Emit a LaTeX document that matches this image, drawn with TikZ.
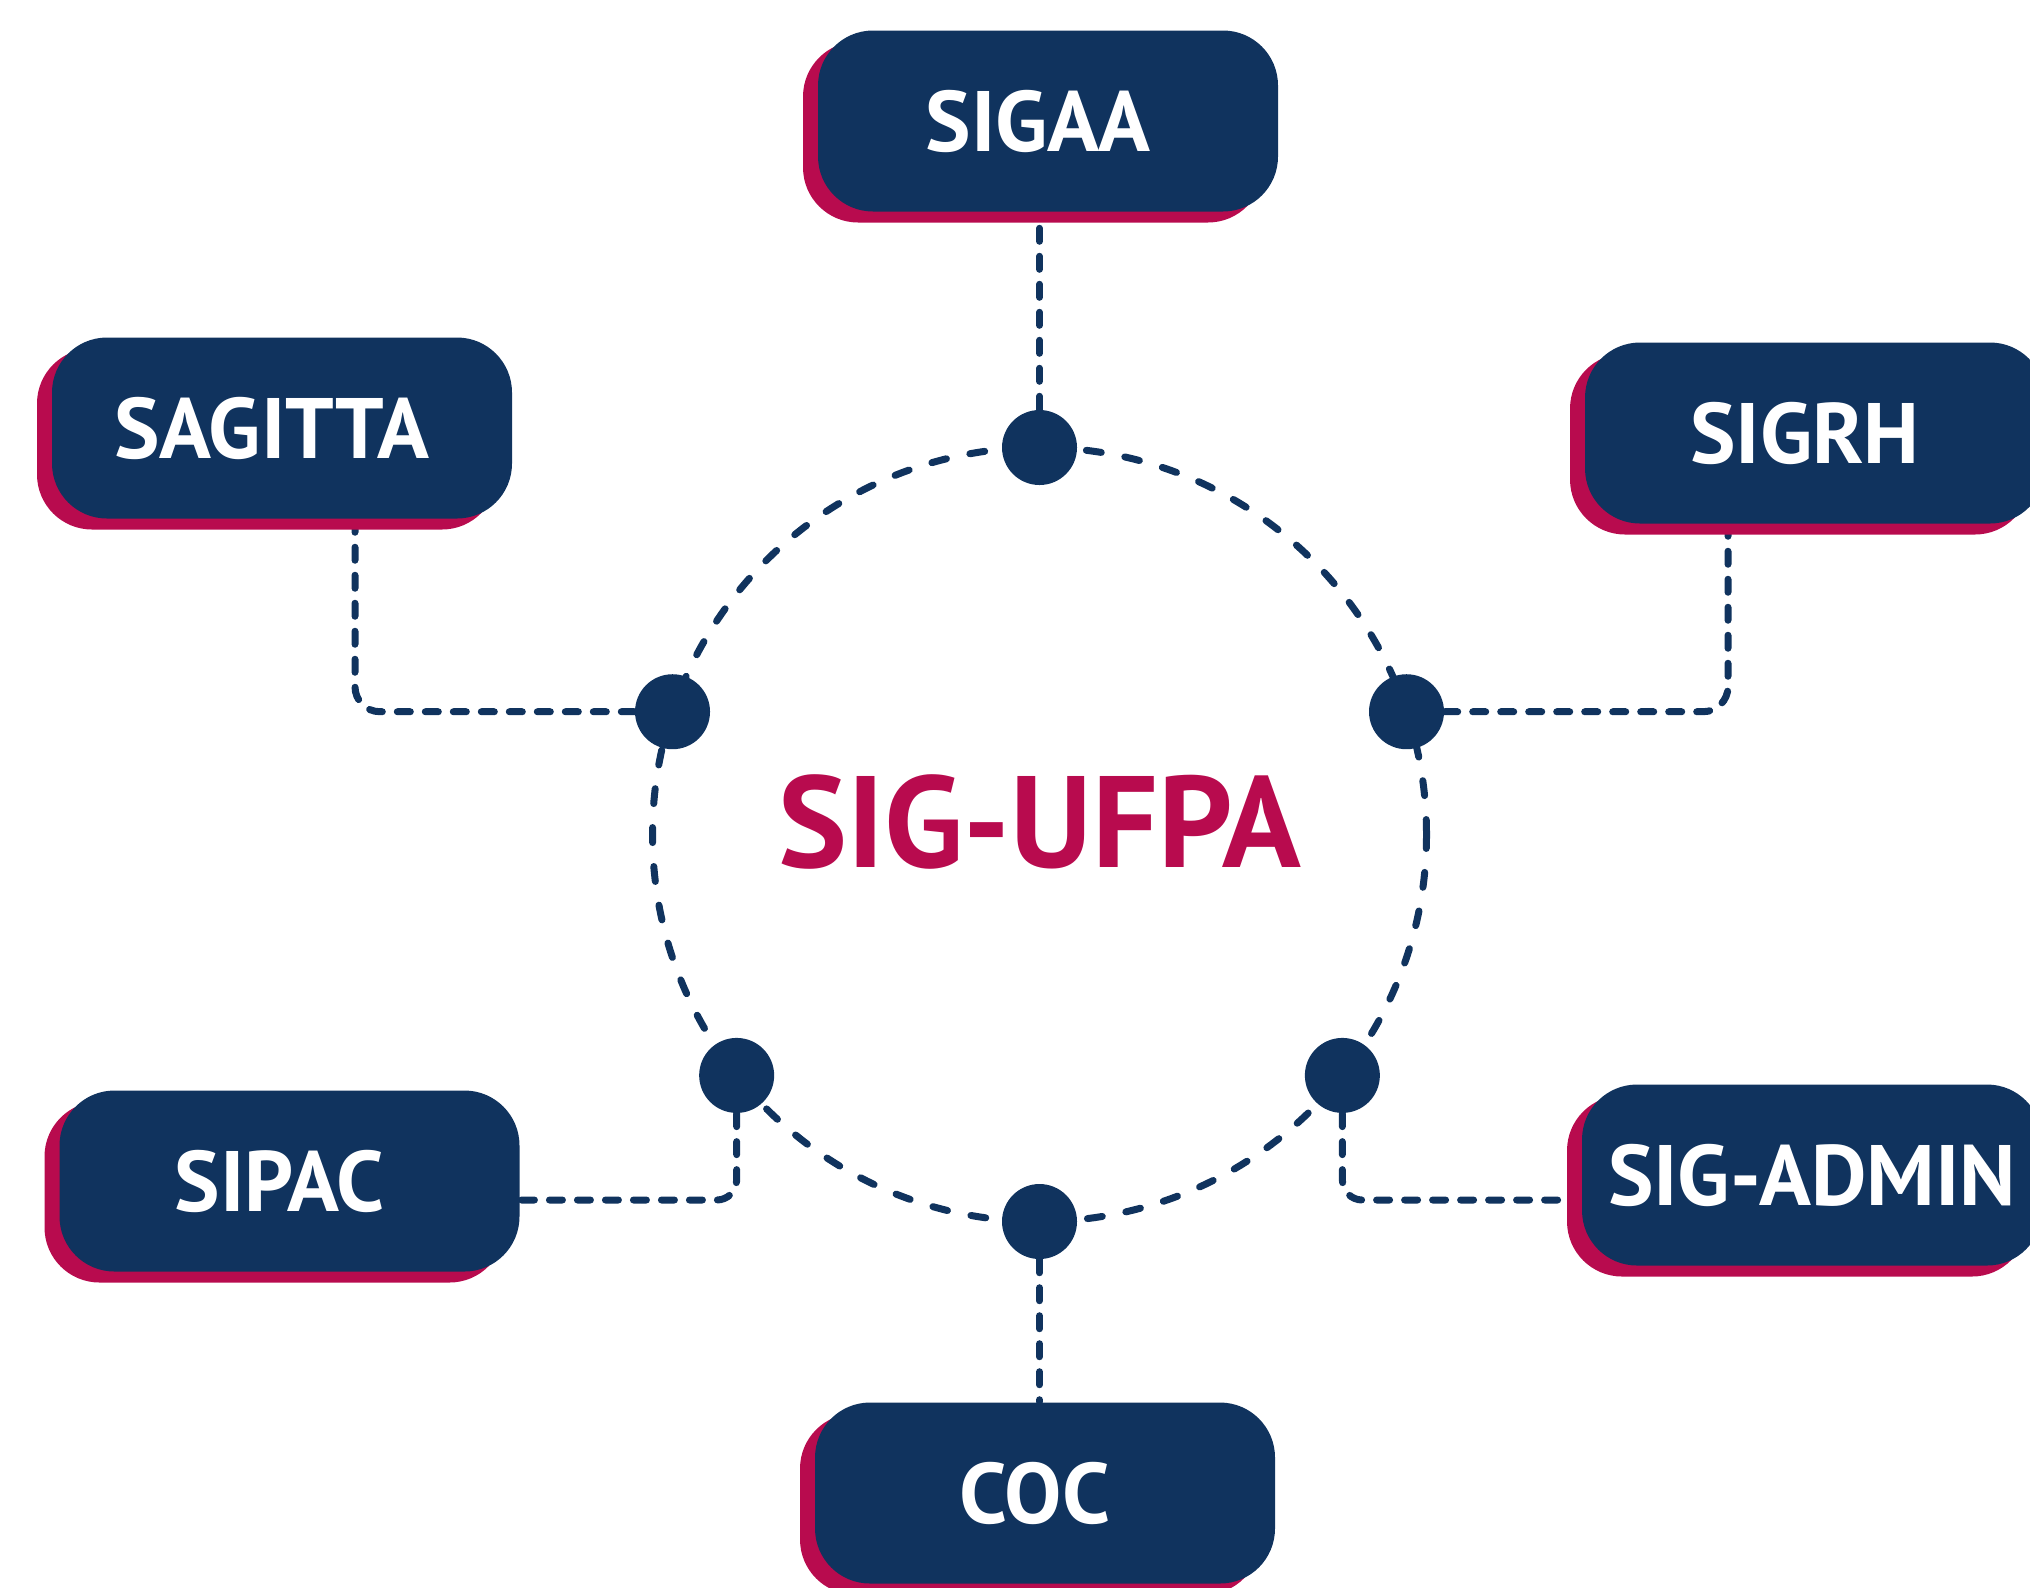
\documentclass[tikz,border=0pt]{standalone}
\usepackage{fontspec}
\setmainfont{PT Sans}
\usetikzlibrary{positioning,shadows,backgrounds,calc}

\definecolor{sigblue}{RGB}{16,51,94}
\definecolor{sigred}{RGB}{184,11,78}

\begin{document}
\begin{tikzpicture}[
    sis/.style={rectangle, rounded corners=5.5mm, minimum width=4.6cm, minimum height=1.81cm, fill=sigblue, text=white, font=\fontsize{24.4}{28}\selectfont\bfseries, drop shadow={shadow xshift=-1.5mm, shadow yshift=-1.1mm, fill=sigred, opacity=1}},
    desloc/.style={execute at begin node={\kern-2mm}},
    titulo/.style={text=sigred, font=\fontsize{37}{40}\selectfont\bfseries},
    ponto/.style={circle, fill=sigblue, minimum size=7.5mm, inner sep=0pt},
    link/.style={sigblue, line width=0.7mm, line cap=round, dash pattern=on 1.3mm off 1.5mm},
    anel/.style={sigblue, line width=0.7mm, line cap=round, dash pattern=on 1.5mm off 2.4mm}
]
\path[use as bounding box, clip] (0,0) rectangle (20.3,-15.87);

% Sistemas ao redor
\node[sis, desloc] (sigaa) at (10.48,-1.21) {SIGAA};
\node[sis, desloc] (sagitta) at (2.82,-4.28) {SAGITTA};
\node[sis, desloc] (sigrh) at (18.15,-4.33) {SIGRH};
\node[sis, desloc] (sipac) at (2.895,-11.81) {SIPAC};
\node[sis] (sigadmin) at (18.12,-11.75) {SIG-ADMIN};
\node[sis, desloc] (coc) at (10.45,-14.93) {COC};

% Anel central com os pontos de conexao
\coordinate (centro) at (10.395,-8.345);
\node[titulo] (sig) at (10.40,-8.22) {SIG-UFPA};
\node[ponto] (dT) at ($(centro)+(90:3.87)$) {};
\node[ponto] (dL) at ($(centro)+(161.5:3.87)$) {};
\node[ponto] (dR) at ($(centro)+(18.5:3.87)$) {};
\node[ponto] (dLL) at ($(centro)+(218.5:3.87)$) {};
\node[ponto] (dLR) at ($(centro)+(-38.5:3.87)$) {};
\node[ponto] (dB) at ($(centro)+(270:3.87)$) {};

% Linhas tracejadas (por baixo das caixas)
\begin{scope}[on background layer]
\draw[anel] (centro) circle (3.87);
\draw[link] (dT) -- (dT |- sigaa.south);
\draw[link] (dB) -- (dB |- coc.north);
\draw[link, rounded corners=2.5mm] (dL) -| ([xshift=7.3mm]sagitta.south);
\draw[link, rounded corners=2.5mm] (dR) -| ([xshift=-8.7mm]sigrh.south);
\draw[link, rounded corners=2mm] (dLL) |- ([yshift=-1.9mm]sipac.east);
\draw[link, rounded corners=2mm] (dLR) |- ([yshift=-2.5mm]sigadmin.west);
\end{scope}

\end{tikzpicture}
\end{document}
